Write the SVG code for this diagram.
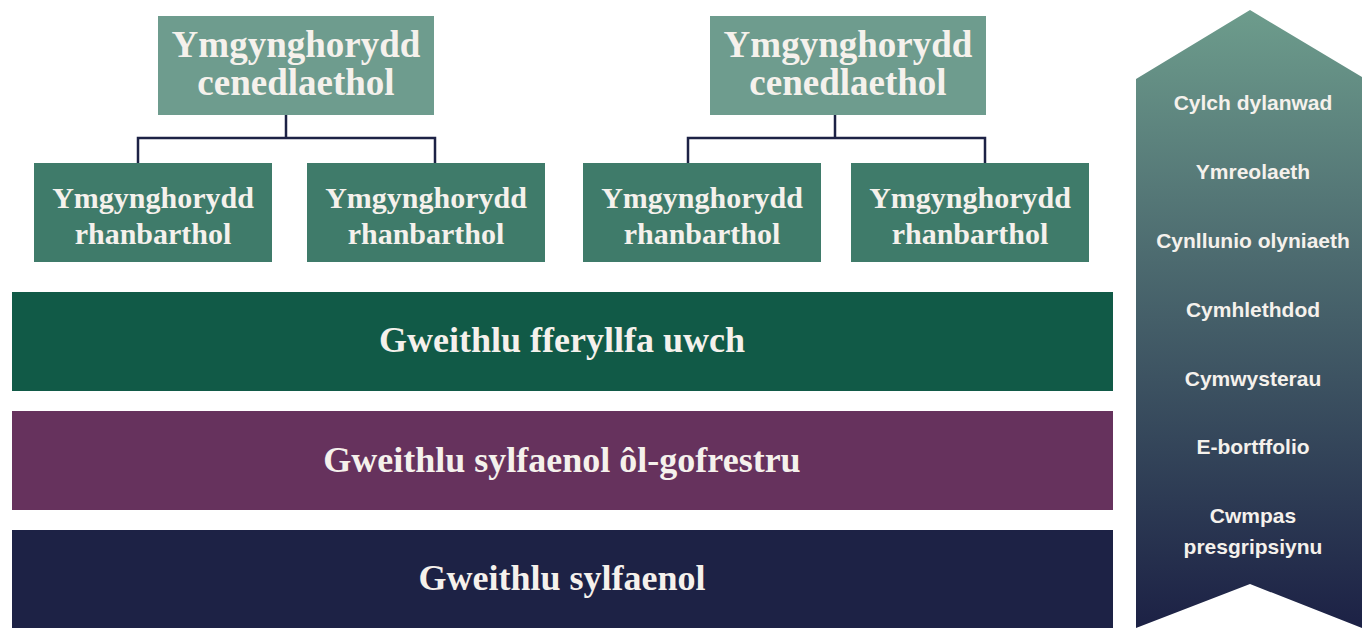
<svg xmlns="http://www.w3.org/2000/svg" width="1362" height="628" viewBox="0 0 1362 628">
<style>
.top{fill:#6e9c8e}
.reg{fill:#3f7b6a}
.t{font-family:"Liberation Serif","DejaVu Serif",serif;font-weight:bold;fill:#f5f1ec;text-anchor:middle}
.s{font-family:"Liberation Sans",Arial,sans-serif;font-weight:bold;font-size:21px;fill:#f5f1ec;text-anchor:middle}
.c{fill:none;stroke:#1d2245;stroke-width:2.5}
</style>
<defs>
<linearGradient id="g" x1="0" y1="0" x2="0" y2="1">
<stop offset="0" stop-color="#6d9c8c"/>
<stop offset="1" stop-color="#1c2145"/>
</linearGradient>
</defs>
<rect width="1362" height="628" fill="#ffffff"/>
<g id="connectors">
<path class="c" d="M286 115V138M138 163V138H435V163"/>
<path class="c" d="M835 115V138M688 163V138H985V163"/>
</g>
<g id="nat1"><rect class="top" x="158" y="16" width="276" height="99"/>
<text class="t" font-size="37" x="296" y="57">Ymgynghorydd</text>
<text class="t" font-size="37" x="296" y="95">cenedlaethol</text></g>
<g id="nat2"><rect class="top" x="710" y="16" width="276" height="99"/>
<text class="t" font-size="37" x="848" y="57">Ymgynghorydd</text>
<text class="t" font-size="37" x="848" y="95">cenedlaethol</text></g>
<g id="reg1"><rect class="reg" x="34" y="163" width="238" height="99"/>
<text class="t" font-size="30" x="153" y="208">Ymgynghorydd</text>
<text class="t" font-size="30" x="153" y="244">rhanbarthol</text></g>
<g id="reg2"><rect class="reg" x="307" y="163" width="238" height="99"/>
<text class="t" font-size="30" x="426" y="208">Ymgynghorydd</text>
<text class="t" font-size="30" x="426" y="244">rhanbarthol</text></g>
<g id="reg3"><rect class="reg" x="583" y="163" width="238" height="99"/>
<text class="t" font-size="30" x="702" y="208">Ymgynghorydd</text>
<text class="t" font-size="30" x="702" y="244">rhanbarthol</text></g>
<g id="reg4"><rect class="reg" x="851" y="163" width="238" height="99"/>
<text class="t" font-size="30" x="970" y="208">Ymgynghorydd</text>
<text class="t" font-size="30" x="970" y="244">rhanbarthol</text></g>
<g id="bar1"><rect x="12" y="292" width="1101" height="99" fill="#115a47"/>
<text class="t" font-size="36" x="562" y="352">Gweithlu fferyllfa uwch</text></g>
<g id="bar2"><rect x="12" y="411" width="1101" height="99" fill="#66325d"/>
<text class="t" font-size="36" x="562" y="472">Gweithlu sylfaenol ôl-gofrestru</text></g>
<g id="bar3"><rect x="12" y="530" width="1101" height="98" fill="#1d2245"/>
<text class="t" font-size="36" x="562" y="590">Gweithlu sylfaenol</text></g>
<g id="arrow"><polygon points="1136,79 1250,10 1362,77 1362,628 1250,584 1136,628" fill="url(#g)"/>
<text class="s" x="1253" y="110">Cylch dylanwad</text>
<text class="s" x="1253" y="179">Ymreolaeth</text>
<text class="s" x="1253" y="248">Cynllunio olyniaeth</text>
<text class="s" x="1253" y="317">Cymhlethdod</text>
<text class="s" x="1253" y="386">Cymwysterau</text>
<text class="s" x="1253" y="454">E-bortffolio</text>
<text class="s" x="1253" y="523">Cwmpas</text>
<text class="s" x="1253" y="554">presgripsiynu</text></g>
</svg>
